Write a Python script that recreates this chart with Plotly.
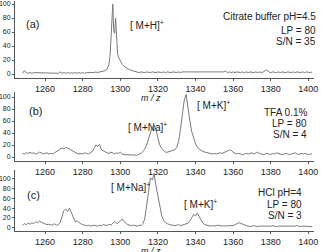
import plotly.graph_objects as go

W, H = 323, 252

# ---------------- data ----------------
mz_a = list(range(1248, 1294)) + [1294, 1294.5, 1295, 1295.5, 1296, 1296.5, 1297, 1297.5, 1298, 1298.5] + list(range(1299, 1403))
int_a = [1, 5, 2, 1, 2, 1, 2, 2, 1, 2,
         1, 2, 1, 2, 1, 2, 2, 1, 2, 1,
         3, 1, 2, 1, 2, 1, 2, 1, 2, 1,
         2, 1, 2, 1, 2, 2, 1, 2, 2, 3,
         2, 3, 3, 4, 5, 7,
         14, 25, 48, 85, 100, 62, 58, 80, 42, 30,
         24, 18, 14, 11, 9, 7, 6, 5, 4, 3,
         3, 2, 3, 2, 2, 3, 2, 2, 3, 2,
         2, 3, 2, 2, 3, 2, 3, 2, 2, 3,
         2, 2, 3, 2, 3, 3, 2, 2, 3, 2,
         3, 2, 2, 3, 2, 3, 2, 2, 3, 2,
         3, 2, 3, 3, 2, 2, 3, 4, 2, 3,
         2, 3, 2, 3, 2, 2, 3, 2, 3, 2,
         3, 2, 2, 3, 2, 3, 2, 3, 4, 6,
         3, 2, 3, 2, 2, 3, 2, 3, 2, 2,
         3, 2, 2, 3, 2, 3, 2, 2, 3, 2,
         3, 2, 2, 3]

mz_b = list(range(1248, 1403))
int_b = [6, 5, 7, 6, 8, 6, 7, 5, 6, 8,
         7, 5, 6, 7, 5, 6, 5, 7, 8, 10,
         13, 15, 14, 16, 15, 13, 12, 10, 8, 6,
         5, 6, 5, 7, 6, 5, 7, 9, 14, 20,
         18, 21, 12, 10, 8, 7, 6, 8, 7, 5,
         7, 6, 8, 5, 4, 4, 3, 3, 4, 3,
         4, 3, 5, 6, 9, 13, 20, 30, 42, 50,
         53, 45, 32, 20, 14, 10, 8, 8, 9, 10,
         10, 12, 16, 26, 46, 76, 95, 104, 80, 60,
         42, 30, 22, 16, 13, 11, 9, 8, 7, 7,
         6, 5, 6, 5, 6, 7, 6, 7, 8, 10,
         12, 11, 8, 6, 5, 6, 5, 4, 5, 6,
         5, 6, 7, 5, 6, 8, 6, 5, 4, 5,
         6, 5, 4, 6, 5, 7, 6, 5, 4, 5,
         6, 5, 4, 5, 6, 7, 5, 4, 6, 5,
         6, 5, 4, 5, 5]

mz_c = list(range(1248, 1403))
int_c = [5, 8, 6, 9, 7, 10, 8, 12, 10, 13,
         11, 9, 8, 6, 7, 5, 6, 8, 5, 6,
         10, 22, 35, 38, 33, 40, 30, 18, 12, 14,
         10, 8, 6, 5, 4, 5, 3, 4, 5, 4,
         3, 5, 4, 6, 5, 4, 7, 5, 9, 12,
         8, 10, 14, 18, 12, 8, 6, 5, 4, 5,
         4, 3, 5, 4, 8, 18, 45, 80, 102, 98,
         110, 85, 62, 40, 25, 15, 10, 8, 6, 5,
         5, 4, 5, 6, 4, 5, 6, 7, 9, 14,
         20, 27, 24, 30, 22, 14, 9, 6, 5, 4,
         3, 4, 3, 4, 5, 4, 3, 4, 3, 4,
         4, 5, 4, 6, 8, 10, 9, 7, 5, 4,
         3, 2, 3, 4, 3, 2, 3, 3, 2, 3,
         3, 2, 3, 4, 3, 2, 3, 3, 2, 3,
         3, 2, 3, 3, 2, 3, 4, 3, 2, 3,
         3, 2, 3, 3, 2]

x_ticks = [1260, 1280, 1300, 1320, 1340, 1360, 1380, 1400]
y_ticks = [0, 20, 40, 60, 80, 100]

# ---------------- layout helpers ----------------
def px(x):
    return x / W

def py(y):
    return 1 - y / H

FONT = "Liberation Sans, Arial, sans-serif"
LINE = "#7a7a7a"
AXC = "#555555"
TXT = "#222222"

fig = go.Figure()
for i, (mz, it) in enumerate([(mz_a, int_a), (mz_b, int_b), (mz_c, int_c)]):
    sfx = "" if i == 0 else str(i + 1)
    fig.add_trace(go.Scatter(x=mz, y=it, mode="lines",
                             line=dict(color=LINE, width=1),
                             xaxis="x" + sfx, yaxis="y" + sfx,
                             showlegend=False, hoverinfo="skip"))

x_dom = [px(15), px(314)]
panels = [
    # (y range, top px, bottom px)
    ([-6, 104], 1.2, 78.2),
    ([-7, 108], 92.2, 161.2),
    ([-7, 118], 170.2, 231.0),
]

layout = dict(width=W, height=H, margin=dict(l=0, r=0, t=0, b=0),
              paper_bgcolor="white", plot_bgcolor="white",
              font=dict(family=FONT, color=TXT))
for i, (yr, top, bot) in enumerate(panels):
    sfx = "" if i == 0 else str(i + 1)
    layout["xaxis" + sfx] = dict(
        domain=x_dom, range=[1244, 1403], anchor="y" + sfx,
        tickvals=x_ticks, ticks="outside", ticklen=2, tickcolor=AXC,
        showline=True, linecolor=AXC, linewidth=1, showgrid=False, zeroline=False,
        tickfont=dict(size=9, family=FONT, color=TXT), automargin=False,
    )
    layout["yaxis" + sfx] = dict(
        domain=[py(bot), py(top)], range=yr, anchor="x" + sfx,
        tickvals=y_ticks, ticks="outside", ticklen=2, tickcolor=AXC,
        showline=True, linecolor=AXC, linewidth=1, showgrid=False, zeroline=False,
        tickfont=dict(size=7, family=FONT, color=TXT), automargin=False,
    )

anns = []
def add(text, x, y, xanchor="left", size=10):
    anns.append(dict(text=text, x=px(x), y=py(y), xref="paper", yref="paper",
                     xanchor=xanchor, yanchor="middle", showarrow=False,
                     borderpad=0,
                     font=dict(size=size, family=FONT, color=TXT)))

add("(a)", 32, 24, "center", 11)
add("[ M+H]<sup>+</sup>", 129, 25)
add("Citrate buffer pH=4.5", 317, 17, "right")
add("LP = 80", 317, 30, "right")
add("S/N = 35", 317, 42, "right")
add("<i>m / z</i>", 151, 98.5, "center", 9)

add("(b)", 35, 111, "center", 11)
add("[ M+Na]<sup>+</sup>", 127, 127)
add("[ M+K]<sup>+</sup>", 196, 105)
add("TFA 0.1%", 308, 112, "right")
add("LP = 80", 308, 123, "right")
add("S/N = 4", 308, 134, "right")

add("(c)", 33, 195, "center", 11)
add("[ M+Na]<sup>+</sup>", 110, 187)
add("[ M+K]<sup>+</sup>", 183, 204)
add("HCl pH=4", 303, 192, "right")
add("LP = 80", 303, 204, "right")
add("S/N = 3", 303, 215, "right")
add("<i>m / z</i>", 151, 251, "center", 9)

layout["annotations"] = anns
fig.update_layout(**layout)
fig.write_html("out.html", config={"displayModeBar": False})
